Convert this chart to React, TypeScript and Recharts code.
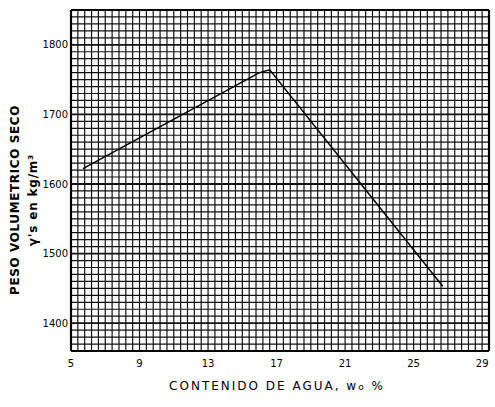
// Compaction curve: dry unit weight vs water content, on dense graph paper.
import React from "react";
import {
  Line,
  LineChart,
  ReferenceLine,
  XAxis,
  YAxis,
} from "recharts";

const waterContent = [5.7, 16.0, 16.6, 26.7];
const dryWeight = [1622, 1760, 1764, 1453];

const xTicks = [5, 9, 13, 17, 21, 25, 29];
const yTicks = [1400, 1500, 1600, 1700, 1800];

const X_MIN = 5;
const X_MAX = 29.4;
const Y_MIN = 1360;
const Y_MAX = 1850;

// graph paper lines
const xGrid: number[] = [];
for (let i = 1; i < 61; i++) xGrid.push(+(X_MIN + i * 0.4).toFixed(2));
const yGrid: number[] = [];
for (let v = Y_MIN + 10; v < Y_MAX; v += 10) yGrid.push(v);

const data = waterContent.map((w, i) => ({ w, d: dryWeight[i] }));

const FONT = "'DejaVu Sans', sans-serif";

export default function App() {
  return (
    <div
      style={{
        position: "absolute",
        left: 0,
        top: 0,
        width: 495,
        height: 407,
        background: "#fff",
        fontFamily: FONT,
      }}
    >
      <LineChart
        width={495}
        height={407}
        data={data}
        margin={{ top: 10, right: 6, left: 0, bottom: 0 }}
      >
        <XAxis
          type="number"
          dataKey="w"
          domain={[X_MIN, X_MAX]}
          ticks={xTicks}
          allowDataOverflow
          height={56}
          tickSize={0}
          tickMargin={9}
          axisLine={false}
          tick={{ fill: "#000", fontSize: 10, fontFamily: FONT }}
        />
        <YAxis
          type="number"
          domain={[Y_MIN, Y_MAX]}
          ticks={yTicks}
          allowDataOverflow
          width={71}
          tickSize={0}
          tickMargin={3}
          axisLine={false}
          tick={{ fill: "#000", fontSize: 10, fontFamily: FONT }}
        />
        {xGrid.map((v) => (
          <ReferenceLine key={`x${v}`} x={v} stroke="#111" strokeWidth={1.2} />
        ))}
        {yGrid.map((v) => (
          <ReferenceLine
            key={`y${v}`}
            y={v}
            stroke="#111"
            strokeWidth={v % 100 === 0 ? 1.8 : 1.2}
          />
        ))}
        <ReferenceLine x={X_MIN} stroke="#000" strokeWidth={2.2} />
        <ReferenceLine x={X_MAX} stroke="#000" strokeWidth={2.2} />
        <ReferenceLine y={Y_MIN} stroke="#000" strokeWidth={2.2} />
        <ReferenceLine y={Y_MAX} stroke="#000" strokeWidth={2.2} />
        <Line
          type="linear"
          dataKey="d"
          stroke="#000"
          strokeWidth={1.5}
          dot={false}
          isAnimationActive={false}
        />
      </LineChart>
      <div
        style={{
          position: "absolute",
          left: 15,
          top: 200,
          transform: "translate(-50%, -50%) rotate(-90deg)",
          whiteSpace: "nowrap",
          fontSize: 12,
          fontWeight: "bold",
          letterSpacing: 0.6,
        }}
      >
        PESO VOLUMETRICO SECO
      </div>
      <div
        style={{
          position: "absolute",
          left: 33,
          top: 200,
          transform: "translate(-50%, -50%) rotate(-90deg)",
          whiteSpace: "nowrap",
          fontSize: 12,
          fontWeight: "bold",
          letterSpacing: 0.8,
        }}
      >
        γ's en kg/m³
      </div>
      <div
        style={{
          position: "absolute",
          left: 277,
          top: 386,
          transform: "translate(-50%, -50%)",
          whiteSpace: "nowrap",
          fontSize: 12,
          letterSpacing: 2,
        }}
      >
        CONTENIDO DE AGUA, w<span style={{ fontSize: 9 }}>o</span> %
      </div>
    </div>
  );
}
